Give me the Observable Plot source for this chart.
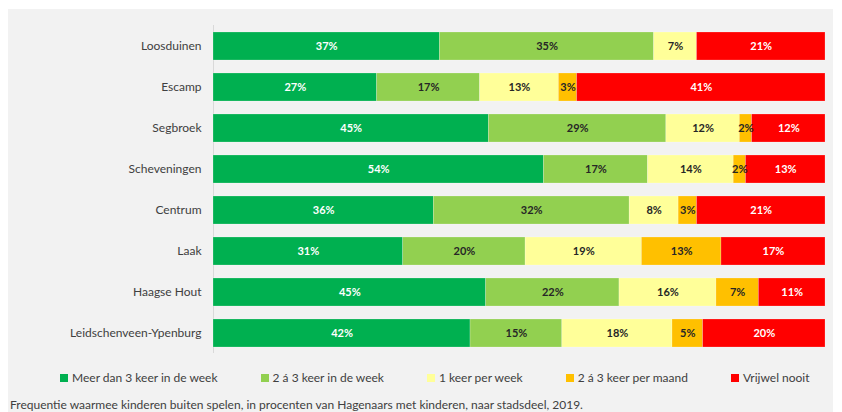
<!DOCTYPE html>
<html>
<head>
<meta charset="utf-8">
<script src="https://cdn.jsdelivr.net/npm/d3@7"></script>
<script src="https://cdn.jsdelivr.net/npm/@observablehq/plot@0.6"></script>
<style>
  html, body { margin: 0; padding: 0; background: #ffffff; }
  body { width: 842px; height: 412px; overflow: hidden; position: relative; font-family: Lato, "Open Sans", sans-serif; }
  #panel { position: absolute; left: 8px; top: 9px; width: 825px; height: 403px; background: #f2f2f2; }
  #chart { position: absolute; left: 0; top: 0; }
  #legend { position: absolute; left: 52px; top: 361px; height: 16px; display: flex; gap: 43px; font-size: 12px; line-height: 16px; color: #404040; white-space: nowrap; }
  #legend .item { display: flex; align-items: center; }
  #legend .sw { width: 8px; height: 8px; margin-right: 4px; }
  #caption { position: absolute; left: 2px; top: 388px; font-size: 12px; line-height: 16px; color: #404040; white-space: nowrap; }
</style>
</head>
<body>
<div id="panel">
  <div id="chart"></div>
  <div id="legend"></div>
  <div id="caption"></div>
</div>
<script>
const districts = ["Loosduinen", "Escamp", "Segbroek", "Scheveningen", "Centrum", "Laak", "Haagse Hout", "Leidschenveen-Ypenburg"];
const categories = ["Meer dan 3 keer in de week", "2 á 3 keer in de week", "1 keer per week", "2 á 3 keer per maand", "Vrijwel nooit"];
const colors = ["#00b050", "#92d050", "#ffff99", "#ffc000", "#ff0000"];
const meerDan3PerWeek = [37, 27, 45, 54, 36, 31, 45, 42];
const tweeDrieKeerPerWeek = [35, 17, 29, 17, 32, 20, 22, 15];
const eenKeerPerWeek = [7, 13, 12, 14, 8, 19, 16, 18];
const tweeDrieKeerPerMaand = [0, 3, 2, 2, 3, 13, 7, 5];
const vrijwelNooit = [21, 41, 12, 13, 21, 17, 11, 20];
const captionText = "Frequentie waarmee kinderen buiten spelen, in procenten van Hagenaars met kinderen, naar stadsdeel, 2019.";

const series = [meerDan3PerWeek, tweeDrieKeerPerWeek, eenKeerPerWeek, tweeDrieKeerPerMaand, vrijwelNooit];
const data = [];
districts.forEach((d, i) => {
  categories.forEach((c, j) => {
    data.push({district: d, cat: c, ci: j, value: series[j][i]});
  });
});

const stackOpts = {x: "value", y: "district", z: "cat", offset: "normalize"};
const isLight = d => d.ci === 0 || d.ci === 4;

const chart = Plot.plot({
  width: 825,
  height: 352,
  marginLeft: 205,
  marginRight: 8,
  marginTop: 16,
  marginBottom: 8,
  style: {background: "transparent", fontFamily: "Lato, 'Open Sans', sans-serif"},
  x: {axis: null, domain: [0, 1]},
  y: {domain: districts, paddingInner: 0.32, paddingOuter: 0.16, label: null},
  color: {domain: categories, range: colors},
  marks: [
    Plot.ruleX([0], {stroke: "#d9d9d9", strokeWidth: 1}),
    Plot.barX(data, Plot.stackX({...stackOpts, fill: "cat", stroke: "#ffffff", strokeOpacity: 0.35, strokeWidth: 0.6})),
    Plot.textX(data, Plot.stackX({...stackOpts, text: d => (d.value > 0 && isLight(d)) ? d.value + "%" : null, fill: "#ffffff", fontSize: 11, fontWeight: "bold"})),
    Plot.textX(data, Plot.stackX({...stackOpts, text: d => (d.value > 0 && !isLight(d)) ? d.value + "%" : null, fill: "#262626", fontSize: 11, fontWeight: "bold"})),
    Plot.axisY({tickSize: 0, tickPadding: 12, fontSize: 12, color: "#404040"})
  ]
});
document.getElementById("chart").appendChild(chart);

const legend = document.getElementById("legend");
categories.forEach((c, j) => {
  const item = document.createElement("div");
  item.className = "item";
  const sw = document.createElement("span");
  sw.className = "sw";
  sw.style.background = colors[j];
  const lab = document.createElement("span");
  lab.textContent = c;
  item.appendChild(sw);
  item.appendChild(lab);
  legend.appendChild(item);
});
document.getElementById("caption").textContent = captionText;
</script>
</body>
</html>
